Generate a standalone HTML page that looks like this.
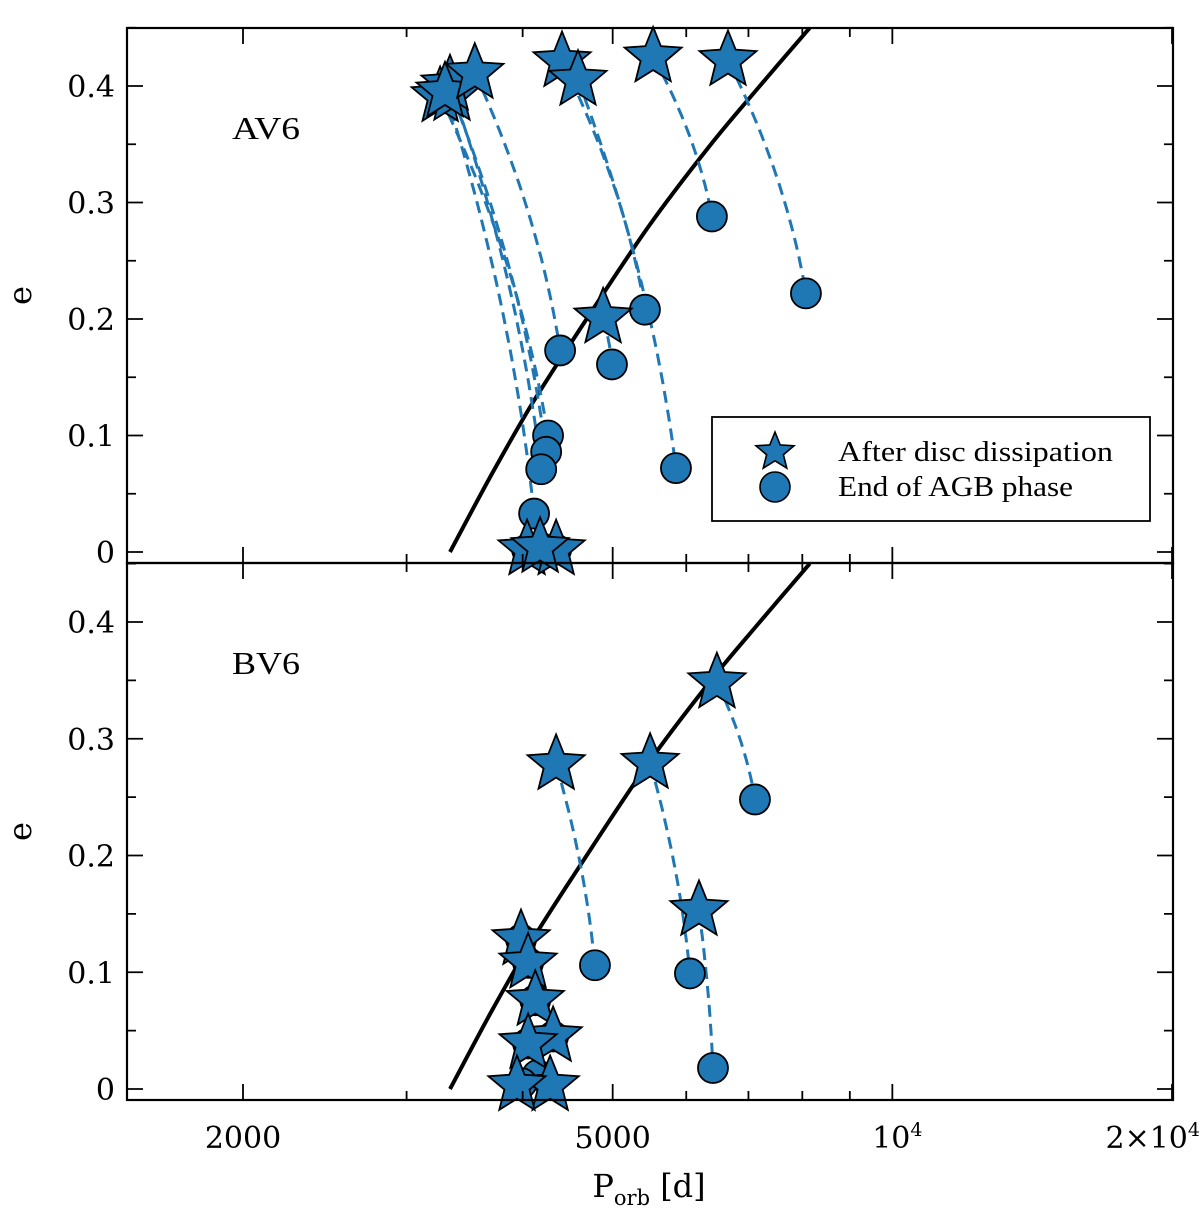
<!DOCTYPE html>
<html><head><meta charset="utf-8"><style>
body{margin:0;background:#fff}
text{font-family:"Liberation Serif","DejaVu Serif",serif;fill:#000}
.tl{font-family:"DejaVu Serif","Liberation Serif",serif}
</style></head><body>
<svg id="c" width="1200" height="1210" xmlns="http://www.w3.org/2000/svg"></svg>
<script>
// ---- data ----
const topStarP=[3260,3357,3341,3300,3553,4410,4588,5527,6654,4882,4044,4346,4177];
const topStarE=[0.391,0.392,0.401,0.395,0.411,0.421,0.405,0.425,0.422,0.201,0.002,0.002,0.004];
const topEndP=[4260,4240,4188,4115,4389,5416,5849,6394,8072,4991,4044,4346,4177];
const topEndE=[0.100,0.086,0.071,0.033,0.173,0.208,0.072,0.288,0.222,0.161,0.002,0.002,0.004];
const botStarP=[6474,4346,5486,6192,3984,4054,4127,4314,4054,4282,3944];
const botStarE=[0.348,0.278,0.279,0.153,0.128,0.108,0.076,0.045,0.039,0.003,0.003];
const botEndP=[7114,4785,6055,6411,3984,4054,4127,4314,4054,4150,3990];
const botEndE=[0.248,0.106,0.099,0.018,0.128,0.108,0.076,0.045,0.039,0.012,0.005];
const curveP=[3341,3700,4100,4600,5460,6350,7200,8150];
const curveE=[0,0.066,0.128,0.19,0.279,0.348,0.40,0.45];
const xMajor=[2000,5000,10000,20000];
const xMajorLbl=["2000","5000","10^4","2×10^4"];
const xMinor=[1500,3000,4000,6000,7000,8000,9000];
const yMajor=[0,0.1,0.2,0.3,0.4];
const yLbl=["0","0.1","0.2","0.3","0.4"];
const yMinor=[0.05,0.15,0.25,0.35,0.45];
// ---- layout ----
const L=127,R=1173;
const X=p=>243+929*Math.log10(p/2000);
const panels=[{top:28,bot:563,y0:552,s:1165,name:'AV6',key:'av6'},{top:563,bot:1100,y0:1089,s:1167.5,name:'BV6',key:'bv6'}];
const svg=document.getElementById('c');
const NS='http://www.w3.org/2000/svg';
function mk(tag,attrs,parent){const e=document.createElementNS(NS,tag);for(const k in attrs)e.setAttribute(k,attrs[k]);(parent||svg).appendChild(e);return e;}
const BLUE='#1f77b4';
function starPath(cx,cy,r){let d='';for(let i=0;i<10;i++){const rr=i%2?r*0.44:r;const a=-Math.PI/2+i*Math.PI/5;d+=(i?'L':'M')+(cx+rr*Math.cos(a)).toFixed(1)+','+(cy+rr*Math.sin(a)).toFixed(1);}return d+'Z';}
function smooth(pts){let d='M'+pts[0][0].toFixed(1)+','+pts[0][1].toFixed(1);
  for(let i=0;i<pts.length-1;i++){const p0=pts[Math.max(0,i-1)],p1=pts[i],p2=pts[i+1],p3=pts[Math.min(pts.length-1,i+2)];
    const c1=[p1[0]+(p2[0]-p0[0])/6,p1[1]+(p2[1]-p0[1])/6],c2=[p2[0]-(p3[0]-p1[0])/6,p2[1]-(p3[1]-p1[1])/6];
    d+=`C${c1[0].toFixed(1)},${c1[1].toFixed(1)} ${c2[0].toFixed(1)},${c2[1].toFixed(1)} ${p2[0].toFixed(1)},${p2[1].toFixed(1)}`;}
  return d;}

panels.forEach((pn,pi)=>{
  const Y=e=>pn.y0-pn.s*e;
  const g=mk('g',{});
  
  
  const cl=mk('clipPath',{id:'clip'+pi},g);
  mk('rect',{x:L,y:pn.top,width:R-L,height:pn.bot-pn.top},cl);
  const pts=curveP.map((p,i)=>[X(p),Y(curveE[i])]);
  const cv=mk('path',{d:smooth(pts),fill:'none',stroke:'#000','stroke-width':4,'clip-path':'url(#clip'+pi+')'},g);
  
  
  const SP=pi?botStarP:topStarP,SE=pi?botStarE:topStarE,EP=pi?botEndP:topEndP,EE=pi?botEndE:topEndE;
  SP.forEach((p,i)=>{
    const x0=X(p),y0=Y(SE[i]),x1=X(EP[i]),y1=Y(EE[i]);
    let dd='';for(let k=0;k<=30;k++){const t=k/30;const f=0.5*t+0.5*(1-(1-t)*(1-t));dd+=(k?'L':'M')+(x0+(x1-x0)*f).toFixed(1)+','+(y0+(y1-y0)*t).toFixed(1);}
    const tr=mk('path',{d:dd,fill:'none',stroke:BLUE,'stroke-width':3,'stroke-dasharray':'12,7'},g);
    
    
  });
  EP.forEach((p,i)=>{
    const c=mk('circle',{cx:X(p),cy:Y(EE[i]),r:15,fill:BLUE,stroke:'#000','stroke-width':1.8},g);
    
    
  });
  SP.forEach((p,i)=>{
    const s=mk('path',{d:starPath(X(p),Y(SE[i]),30),fill:BLUE,stroke:'#000','stroke-width':1.8},g);
    
    
  });
  const fr=mk('rect',{x:L,y:pn.top,width:R-L,height:pn.bot-pn.top,fill:'none',stroke:'#000','stroke-width':2.2},g);
  
  
  let td='';
  xMajor.forEach(p=>{const x=X(p);td+=`M${x},${pn.bot}v-16M${x},${pn.top}v16`;});
  xMinor.forEach(p=>{const x=X(p);if(x>L&&x<R)td+=`M${x},${pn.bot}v-9M${x},${pn.top}v9`;});
  yMajor.forEach(e=>{const y=Y(e);td+=`M${L},${y}h16M${R},${y}h-16`;});
  yMinor.forEach(e=>{const y=Y(e);td+=`M${L},${y}h9M${R},${y}h-9`;});
  const tk=mk('path',{d:td,stroke:'#000','stroke-width':1.8,fill:'none'},g);
  
  
  yMajor.forEach((e,i)=>{
    const t=mk('text',{x:115,y:Y(e)+11,'text-anchor':'end','font-size':30,class:'tl'},g);
    t.textContent=yLbl[i];
    
    
  });
  const yl=mk('text',{x:31,y:(pn.top+pn.bot)/2,'text-anchor':'middle','font-size':32,class:'tl',transform:`rotate(-90 31 ${(pn.top+pn.bot)/2})`},g);
  yl.textContent='e';
  
  
  const nl=mk('text',{x:232,y:pn.top+111,'font-size':32,textLength:68,lengthAdjust:'spacingAndGlyphs'},g);
  nl.textContent=pn.name;
  
  
});
xMajor.forEach((p,i)=>{
  const t=mk('text',{x:X(p),y:1148,'text-anchor':'middle','font-size':30,class:'tl'});
  const l=xMajorLbl[i];
  if(l==='10^4'){t.textContent='10';const s=mk('tspan',{dy:-12,'font-size':19},t);s.textContent='4';t.setAttribute('x',X(p)+5);}
  else if(l==='2×10^4'){t.textContent='2×10';const s=mk('tspan',{dy:-12,'font-size':19},t);s.textContent='4';t.setAttribute('text-anchor','end');t.setAttribute('x',1200);}
  else t.textContent=l;
  
  
});
const xl=mk('text',{x:649,y:1197,'text-anchor':'middle','font-size':32,class:'tl'});
xl.textContent='P';
const sb=mk('tspan',{dy:8,'font-size':21},xl);sb.textContent='orb';
const rs=mk('tspan',{dy:-8},xl);rs.textContent=' [d]';


const lg=mk('g',{});


mk('rect',{x:712,y:417,width:438,height:104,fill:'#fff',stroke:'#000','stroke-width':1.8},lg);
const ls=mk('path',{d:starPath(775,452,20),fill:BLUE,stroke:'#000','stroke-width':1.6},lg);


const lc=mk('circle',{cx:775,cy:487,r:15,fill:BLUE,stroke:'#000','stroke-width':1.6},lg);


const t1=mk('text',{x:838,y:461,'font-size':29,textLength:275,lengthAdjust:'spacingAndGlyphs'},lg);t1.textContent='After disc dissipation';


const t2=mk('text',{x:838,y:496,'font-size':29,textLength:235,lengthAdjust:'spacingAndGlyphs'},lg);t2.textContent='End of AGB phase';


</script>
</body></html>
